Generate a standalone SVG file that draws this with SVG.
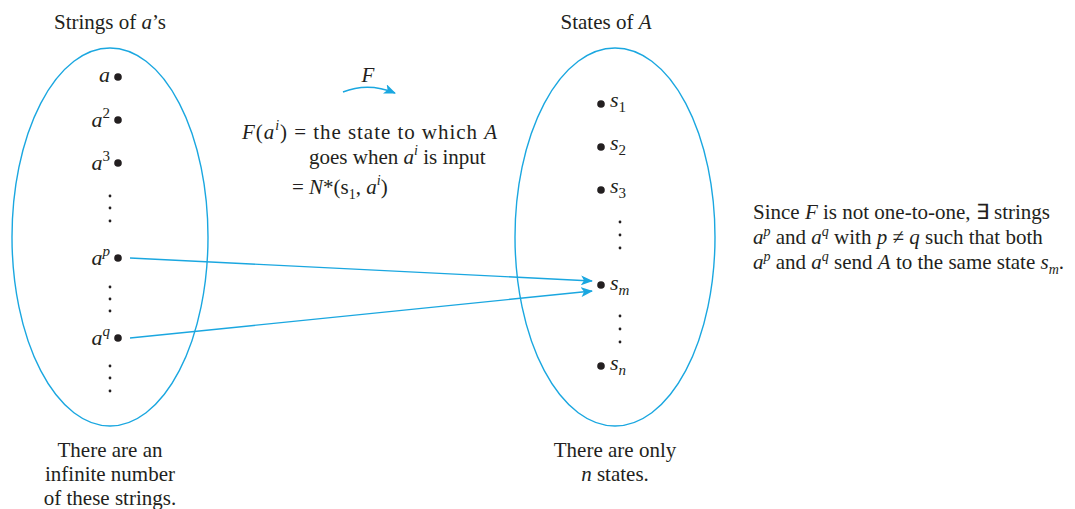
<svg xmlns="http://www.w3.org/2000/svg" width="1075" height="509" viewBox="0 0 1075 509">
<style>
text{font-family:"Liberation Serif","Times New Roman",serif;font-size:21px;fill:#231f20}
.i{font-style:italic}
.sm{font-size:14px}
.lb{font-size:22px}
.lbs{font-size:15px}
.ell{fill:none;stroke:#1aa7e0;stroke-width:1.4}
.con{fill:none;stroke:#1aa7e0;stroke-width:1.4}
.dot{fill:#231f20}
.pt{fill:#231f20}
</style>
<defs>
<marker id="ah" viewBox="0 0 12 10" refX="11" refY="5" markerWidth="12" markerHeight="10" markerUnits="userSpaceOnUse" orient="auto">
<path d="M0,0 L12,5 L0,10 L3,5 Z" fill="#1aa7e0"/>
</marker>
</defs>
<rect width="1075" height="509" fill="#fff"/>

<g id="left-set">
<ellipse class="ell" cx="110" cy="237" rx="98" ry="189"/>
<text x="110" y="29" text-anchor="middle">Strings of <tspan class="i">a</tspan>’s</text>
<g id="a1"><circle class="dot" cx="118" cy="77" r="3.8"/><text class="lb i" x="110" y="82" text-anchor="end">a</text></g>
<g id="a2"><circle class="dot" cx="118" cy="120" r="3.8"/><text class="lb" x="110" y="127" text-anchor="end"><tspan class="i">a</tspan><tspan class="lbs" dy="-9">2</tspan></text></g>
<g id="a3"><circle class="dot" cx="118" cy="163" r="3.8"/><text class="lb" x="110" y="170" text-anchor="end"><tspan class="i">a</tspan><tspan class="lbs" dy="-9">3</tspan></text></g>
<g id="dots1"><circle class="pt" cx="110" cy="196" r="1.4"/><circle class="pt" cx="110" cy="208" r="1.4"/><circle class="pt" cx="110" cy="221" r="1.4"/></g>
<g id="ap"><circle class="dot" cx="118" cy="258" r="3.8"/><text class="lb" x="110" y="265" text-anchor="end"><tspan class="i">a</tspan><tspan class="lbs i" dy="-9">p</tspan></text></g>
<g id="dots2"><circle class="pt" cx="110" cy="287" r="1.4"/><circle class="pt" cx="110" cy="299" r="1.4"/><circle class="pt" cx="110" cy="311" r="1.4"/></g>
<g id="aq"><circle class="dot" cx="118" cy="338" r="3.8"/><text class="lb" x="110" y="345" text-anchor="end"><tspan class="i">a</tspan><tspan class="lbs i" dy="-9">q</tspan></text></g>
<g id="dots3"><circle class="pt" cx="110" cy="366" r="1.4"/><circle class="pt" cx="110" cy="378" r="1.4"/><circle class="pt" cx="110" cy="391" r="1.4"/></g>
<text x="110" y="457" text-anchor="middle">There are an</text>
<text x="110" y="481" text-anchor="middle">infinite number</text>
<text x="110" y="505" text-anchor="middle">of these strings.</text>
</g>

<g id="right-set">
<ellipse class="ell" cx="615" cy="237" rx="100" ry="189"/>
<text x="606" y="29" text-anchor="middle">States of <tspan class="i">A</tspan></text>
<g id="s1"><circle class="dot" cx="601" cy="104" r="3.8"/><text class="lb" x="610" y="107"><tspan class="i">s</tspan><tspan class="lbs" dy="5">1</tspan></text></g>
<g id="s2"><circle class="dot" cx="601" cy="147" r="3.8"/><text class="lb" x="610" y="150"><tspan class="i">s</tspan><tspan class="lbs" dy="5">2</tspan></text></g>
<g id="s3"><circle class="dot" cx="601" cy="190" r="3.8"/><text class="lb" x="610" y="193"><tspan class="i">s</tspan><tspan class="lbs" dy="5">3</tspan></text></g>
<g id="dots4"><circle class="pt" cx="620" cy="222" r="1.4"/><circle class="pt" cx="620" cy="235" r="1.4"/><circle class="pt" cx="620" cy="248" r="1.4"/></g>
<g id="sm"><circle class="dot" cx="601" cy="285" r="3.8"/><text class="lb" x="610" y="290"><tspan class="i">s</tspan><tspan class="lbs i" dy="5">m</tspan></text></g>
<g id="dots5"><circle class="pt" cx="620" cy="316" r="1.4"/><circle class="pt" cx="620" cy="329" r="1.4"/><circle class="pt" cx="620" cy="342" r="1.4"/></g>
<g id="sn"><circle class="dot" cx="601" cy="366" r="3.8"/><text class="lb" x="610" y="370"><tspan class="i">s</tspan><tspan class="lbs i" dy="5">n</tspan></text></g>
<text x="615" y="457" text-anchor="middle">There are only</text>
<text x="615" y="481" text-anchor="middle"><tspan class="i">n</tspan> states.</text>
</g>

<g id="connectors">
<path class="con" d="M130,258 L592,281" marker-end="url(#ah)"/>
<path class="con" d="M130,338 L592,291" marker-end="url(#ah)"/>
<path class="con" d="M343,92 Q368,82 395,93" marker-end="url(#ah)"/>
</g>

<g id="function-label">
<text x="368" y="82" text-anchor="middle" class="i">F</text>
<text x="242" y="139" textLength="255" lengthAdjust="spacing"><tspan class="i">F</tspan>(<tspan class="i">a</tspan><tspan class="sm i" dy="-9">i</tspan><tspan dy="9">) = the state to which </tspan><tspan class="i">A</tspan></text>
<text x="309" y="164">goes when <tspan class="i">a</tspan><tspan class="sm i" dy="-9">i</tspan><tspan dy="9"> is input</tspan></text>
<text x="292" y="194">= <tspan class="i">N</tspan>*(s<tspan class="sm" dy="5">1</tspan><tspan dy="-5">, </tspan><tspan class="i">a</tspan><tspan class="sm i" dy="-9">i</tspan><tspan dy="9">)</tspan></text>
</g>

<g id="note">
<text x="753" y="219">Since <tspan class="i">F</tspan> is not one-to-one, ∃ strings</text>
<text x="753" y="244"><tspan class="i">a</tspan><tspan class="sm i" dy="-8">p</tspan><tspan dy="8"> and </tspan><tspan class="i">a</tspan><tspan class="sm i" dy="-8">q</tspan><tspan dy="8"> with  </tspan><tspan class="i">p</tspan> ≠ <tspan class="i">q</tspan> such that both</text>
<text x="753" y="269"><tspan class="i">a</tspan><tspan class="sm i" dy="-8">p</tspan><tspan dy="8"> and </tspan><tspan class="i">a</tspan><tspan class="sm i" dy="-8">q</tspan><tspan dy="8"> send </tspan><tspan class="i">A</tspan> to the same state <tspan class="i">s</tspan><tspan class="sm i" dy="5">m</tspan><tspan dy="-5">.</tspan></text>
</g>
</svg>
